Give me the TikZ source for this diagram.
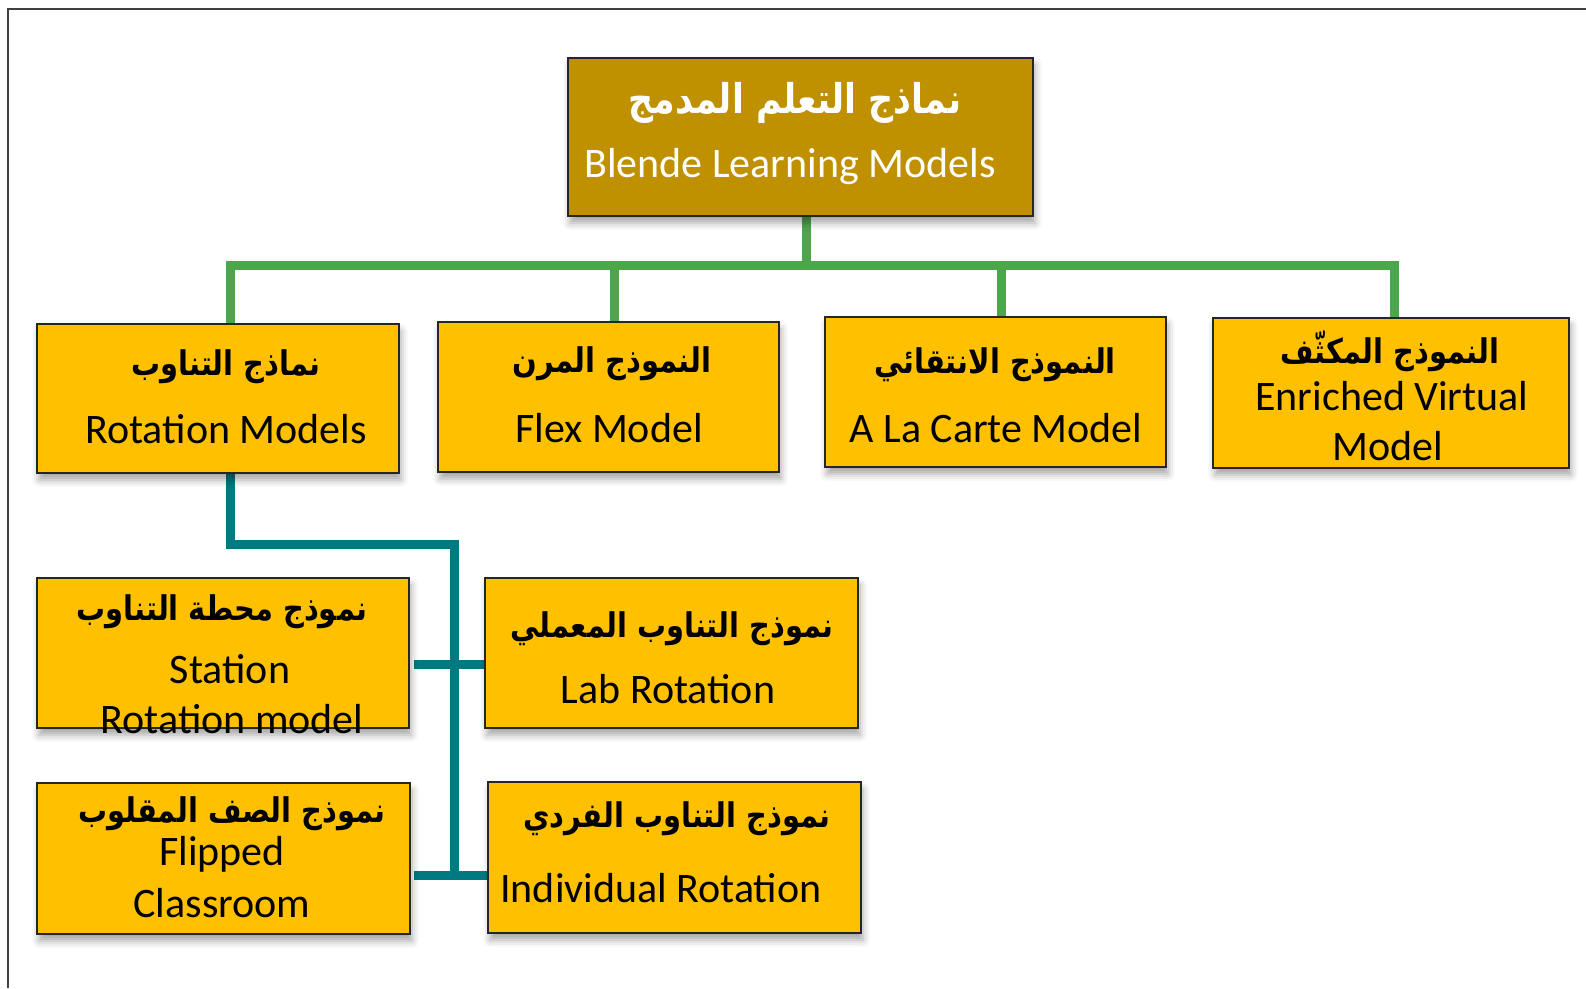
\documentclass[tikz,border=0pt]{standalone}
\usepackage{fontspec}
\setmainfont{Carlito}
\newfontfamily\arabicfont[Script=Arabic,FakeStretch=0.85]{DejaVu Sans Bold}
\TeXXeTstate=1
\usetikzlibrary{shadows.blur,calc}
\pgfdeclarelayer{bg}
\pgfsetlayers{bg,main}
\definecolor{gold}{HTML}{BF9000}
\definecolor{amber}{HTML}{FFC000}
\definecolor{linegreen}{HTML}{4EA64C}
\definecolor{lineteal}{HTML}{007A80}
\definecolor{framegray}{HTML}{404040}
\tikzset{
  box/.style={draw=black!85, line width=1.2pt, fill=amber, inner sep=0pt,
    blur shadow={shadow xshift=2pt, shadow yshift=-7pt, shadow blur radius=7pt, shadow opacity=35}},
  topbox/.style={box, fill=gold},
  ar/.style={anchor=base, inner sep=0pt, font=\arabicfont\fontsize{34}{34}\selectfont},
  artop/.style={ar, text=white, font=\arabicfont\fontsize{41}{41}\selectfont},
  en/.style={anchor=base, inner sep=0pt, font=\fontsize{42}{42}\selectfont},
  entop/.style={en, text=white},
  gline/.style={draw=linegreen, line width=9pt, line join=miter},
  tline/.style={draw=lineteal, line width=9pt, line join=miter},
}
\begin{document}
\begin{tikzpicture}[x=1pt,y=-1pt]
\useasboundingbox (0,0) rectangle (1586,988);
\draw[framegray, line width=1.5pt] (8,988) -- (8,9) -- (1586,9);

% boxes
\node[topbox, minimum width=465pt, minimum height=158pt] (top) at (800.5,137) {};
\node[box, minimum width=362pt, minimum height=149pt] (rot) at (218,398.5) {};
\node[box, minimum width=341pt, minimum height=150pt] (flex) at (608.5,397) {};
\node[box, minimum width=341pt, minimum height=150pt] (alc) at (995.5,392) {};
\node[box, minimum width=356pt, minimum height=150pt] (enr) at (1391,393) {};
\node[box, minimum width=372pt, minimum height=150pt] (sta) at (223,653) {};
\node[box, minimum width=373pt, minimum height=150pt] (lab) at (671.5,653) {};
\node[box, minimum width=373pt, minimum height=151pt] (flip) at (223.5,858.5) {};
\node[box, minimum width=373pt, minimum height=151pt] (ind) at (674.5,857.5) {};

% texts
\node[artop] (topar) at (795,113) {\beginR نماذج التعلم المدمج\endR};
\node[entop] (topen) at (790,177) {Blende Learning Models};
\node[ar] (rotar) at (226,375) {\beginR نماذج التناوب\endR};
\node[en] (roten) at (226,443) {Rotation Models};
\node[ar] (flexar) at (612,372) {\beginR النموذج المرن\endR};
\node[en] (flexen) at (609,442) {Flex Model};
\node[ar] (alcar) at (995,373) {\beginR النموذج الانتقائي\endR};
\node[en] (alcen) at (996,442) {A La Carte Model};
\node[ar] (enrar) at (1390,363) {\beginR النموذج المكثّف\endR};
\node[en] (enren) at (1392,410) {Enriched Virtual};
\node[en] (enren2) at (1388,460) {Model};
\node[ar] (staar) at (222,620) {\beginR نموذج محطة التناوب\endR};
\node[en] (staen) at (230,683) {Station};
\node[en] (staen2) at (232,733) {Rotation model};
\node[ar] (labar) at (672,637) {\beginR نموذج التناوب المعملي\endR};
\node[en] (laben) at (668,703) {Lab Rotation};
\node[ar] (flipar) at (232,822) {\beginR نموذج الصف المقلوب\endR};
\node[en] (flipen) at (222,865) {Flipped};
\node[en] (flipen2) at (222,917) {Classroom};
\node[ar] (indar) at (677,827) {\beginR نموذج التناوب الفردي\endR};
\node[en] (inden) at (661,902) {Individual Rotation};

% connectors
\coordinate (gbus) at (0,265);
\coordinate (tbus) at (0,544);
\coordinate (tmid) at (0,664);
\coordinate (tlow) at (0,875);
\coordinate (tx) at (454,0);
\begin{pgfonlayer}{bg}
\draw[gline] ($(top.south)+(5.5,0)$) -- ($(top.south |- gbus)+(5.5,0)$);
\draw[gline] ($(rot.north)+(12.5,0)$) -- ($(rot.north |- gbus)+(12.5,0)$) -- ($(enr.north |- gbus)+(3,0)$) -- ($(enr.north)+(3,0)$);
\draw[gline] ($(flex.north |- gbus)+(5.5,0)$) -- ($(flex.north)+(5.5,0)$);
\draw[gline] ($(alc.north |- gbus)+(5.5,0)$) -- ($(alc.north)+(5.5,0)$);
\draw[tline, line cap=rect] ($(rot.south)+(12,0)$) -- ($(rot.south |- tbus)+(12,0)$) -- (tx |- tbus) -- (tx |- tlow);
\draw[tline] ($(sta.east |- tmid)+(4,0)$) -- (lab.west |- tmid);
\draw[tline] ($(flip.east |- tlow)+(3,0)$) -- (ind.west |- tlow);
\end{pgfonlayer}
\end{tikzpicture}
\end{document}
